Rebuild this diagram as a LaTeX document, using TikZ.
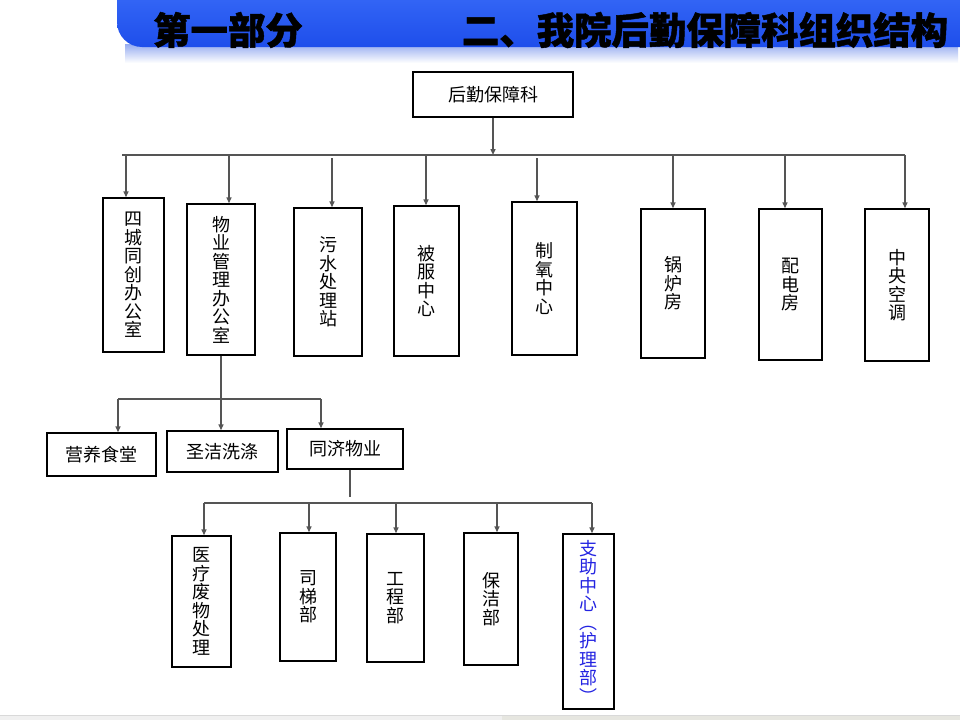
\documentclass[tikz,border=0pt]{standalone}
\usepackage{fontspec}
\setmainfont{Noto Sans CJK SC}
\newfontfamily\headfont[BoldFeatures={FakeBold=1.2}]{Noto Sans CJK SC}
\usetikzlibrary{arrows.meta}
\definecolor{bannerblue}{RGB}{30,78,235}
\definecolor{bannertop}{RGB}{50,100,245}
\definecolor{bannershade}{RGB}{150,172,240}
\definecolor{linkgray}{RGB}{85,85,85}
\definecolor{helpblue}{RGB}{35,35,225}
\definecolor{footleft}{RGB}{240,240,240}
\definecolor{footright}{RGB}{230,230,224}
\tikzstyle{title}=[inner sep=0pt,font=\headfont\fontsize{37.4}{40}\selectfont\bfseries]
\tikzstyle{dept}=[draw=black,line width=1.4pt,inner sep=0pt,align=center,font=\fontsize{18}{18.5}\selectfont]
\tikzstyle{link}=[draw=linkgray,line width=1.4pt]
\tikzstyle{feed}=[link,-{Triangle[length=6pt,width=5pt]}]

\begin{document}
\begin{tikzpicture}[x=1pt,y=-1pt]
\useasboundingbox (0,0) rectangle (960,720);

\shade[top color=bannershade,bottom color=white] (125,44) rectangle (958,63);
\shade[top color=bannertop,bottom color=bannerblue] (960,0) -- (117,0) -- (117,22) arc[start angle=180,end angle=90,radius=25] -- (960,47) -- cycle;
\node[title] (part) at (228,30) {第一部分};
\node[title] (head) at (705,30) {二、我院后勤保障科组织结构};

\node[dept,minimum width=160pt,minimum height=45pt] (top) at (493,94.5) {后勤保障科};

\node[dept,minimum width=61pt,minimum height=154pt] (d1) at (133.5,275) {四\\城\\同\\创\\办\\公\\室};
\node[dept,minimum width=68pt,minimum height=151pt] (d2) at (221,279.5) {物\\业\\管\\理\\办\\公\\室};
\node[dept,minimum width=68pt,minimum height=148pt] (d3) at (328,282) {污\\水\\处\\理\\站};
\node[dept,minimum width=65pt,minimum height=150pt] (d4) at (426.5,281) {被\\服\\中\\心};
\node[dept,minimum width=65pt,minimum height=153pt] (d5) at (544.5,278.5) {制\\氧\\中\\心};
\node[dept,minimum width=64pt,minimum height=149pt] (d6) at (673,283.5) {锅\\炉\\房};
\node[dept,minimum width=63pt,minimum height=151pt] (d7) at (790.5,284.5) {配\\电\\房};
\node[dept,minimum width=64pt,minimum height=152pt] (d8) at (897,285) {中\\央\\空\\调};

\node[dept,minimum width=109pt,minimum height=43pt] (s1) at (101.5,454.5) {营养食堂};
\node[dept,minimum width=111pt,minimum height=41pt] (s2) at (222.5,451.5) {圣洁洗涤};
\node[dept,minimum width=116pt,minimum height=40pt] (s3) at (345,449) {同济物业};

\node[dept,minimum width=59pt,minimum height=131pt] (t1) at (201.5,601.5) {医\\疗\\废\\物\\处\\理};
\node[dept,minimum width=56pt,minimum height=128pt] (t2) at (308,597) {司\\梯\\部};
\node[dept,minimum width=57pt,minimum height=128pt] (t3) at (395.5,598) {工\\程\\部};
\node[dept,minimum width=54pt,minimum height=132pt] (t4) at (491,599) {保\\洁\\部};
\node[dept,minimum width=51pt,minimum height=175pt,text=helpblue] (t5) at (588.5,621.5) {支\\助\\中\\心\\︵\\护\\理\\部\\︶};

\coordinate (b1) at (122,155);
\coordinate (b8) at (905,155);
\draw[link] (b1) -- (b8);
\draw[feed] (top) -- (top |- b1);
\draw[feed] (126,155) -- (126,155 |- d1.north);
\draw[feed] (229,155) -- (229,155 |- d2.north);
\draw[feed] (332,158) -- (332,158 |- d3.north);
\draw[feed] (426,155) -- (426,155 |- d4.north);
\draw[feed] (537,158) -- (537,158 |- d5.north);
\draw[feed] (673,155) -- (673,155 |- d6.north);
\draw[feed] (785,155) -- (785,155 |- d7.north);
\draw[feed] (b8) -- (b8 |- d8.north);

\coordinate (m1) at (118,399);
\coordinate (m3) at (321,399);
\draw[link] (m1) -- (m3);
\draw[feed] (d2.south) -- (d2.south |- s2.north);
\draw[feed] (m1) -- (m1 |- s1.north);
\draw[feed] (m3) -- (m3 |- s3.north);

\coordinate (s3end) at (350,497);
\draw[link] (s3end |- s3.south) -- (s3end);
\coordinate (n1) at (204,503);
\coordinate (n5) at (592,503);
\draw[link] (n1) -- (n5);
\draw[feed] (n1) -- (n1 |- t1.north);
\draw[feed] (309,503) -- (309,503 |- t2.north);
\draw[feed] (396,503) -- (396,503 |- t3.north);
\draw[feed] (497,503) -- (497,503 |- t4.north);
\draw[feed] (n5) -- (n5 |- t5.north);

\fill[footleft] (0,715) rectangle (502,720);
\fill[footright] (502,715) rectangle (960,720);
\draw[gray!30,line width=1pt] (0,715) -- (960,715);
\end{tikzpicture}
\end{document}
